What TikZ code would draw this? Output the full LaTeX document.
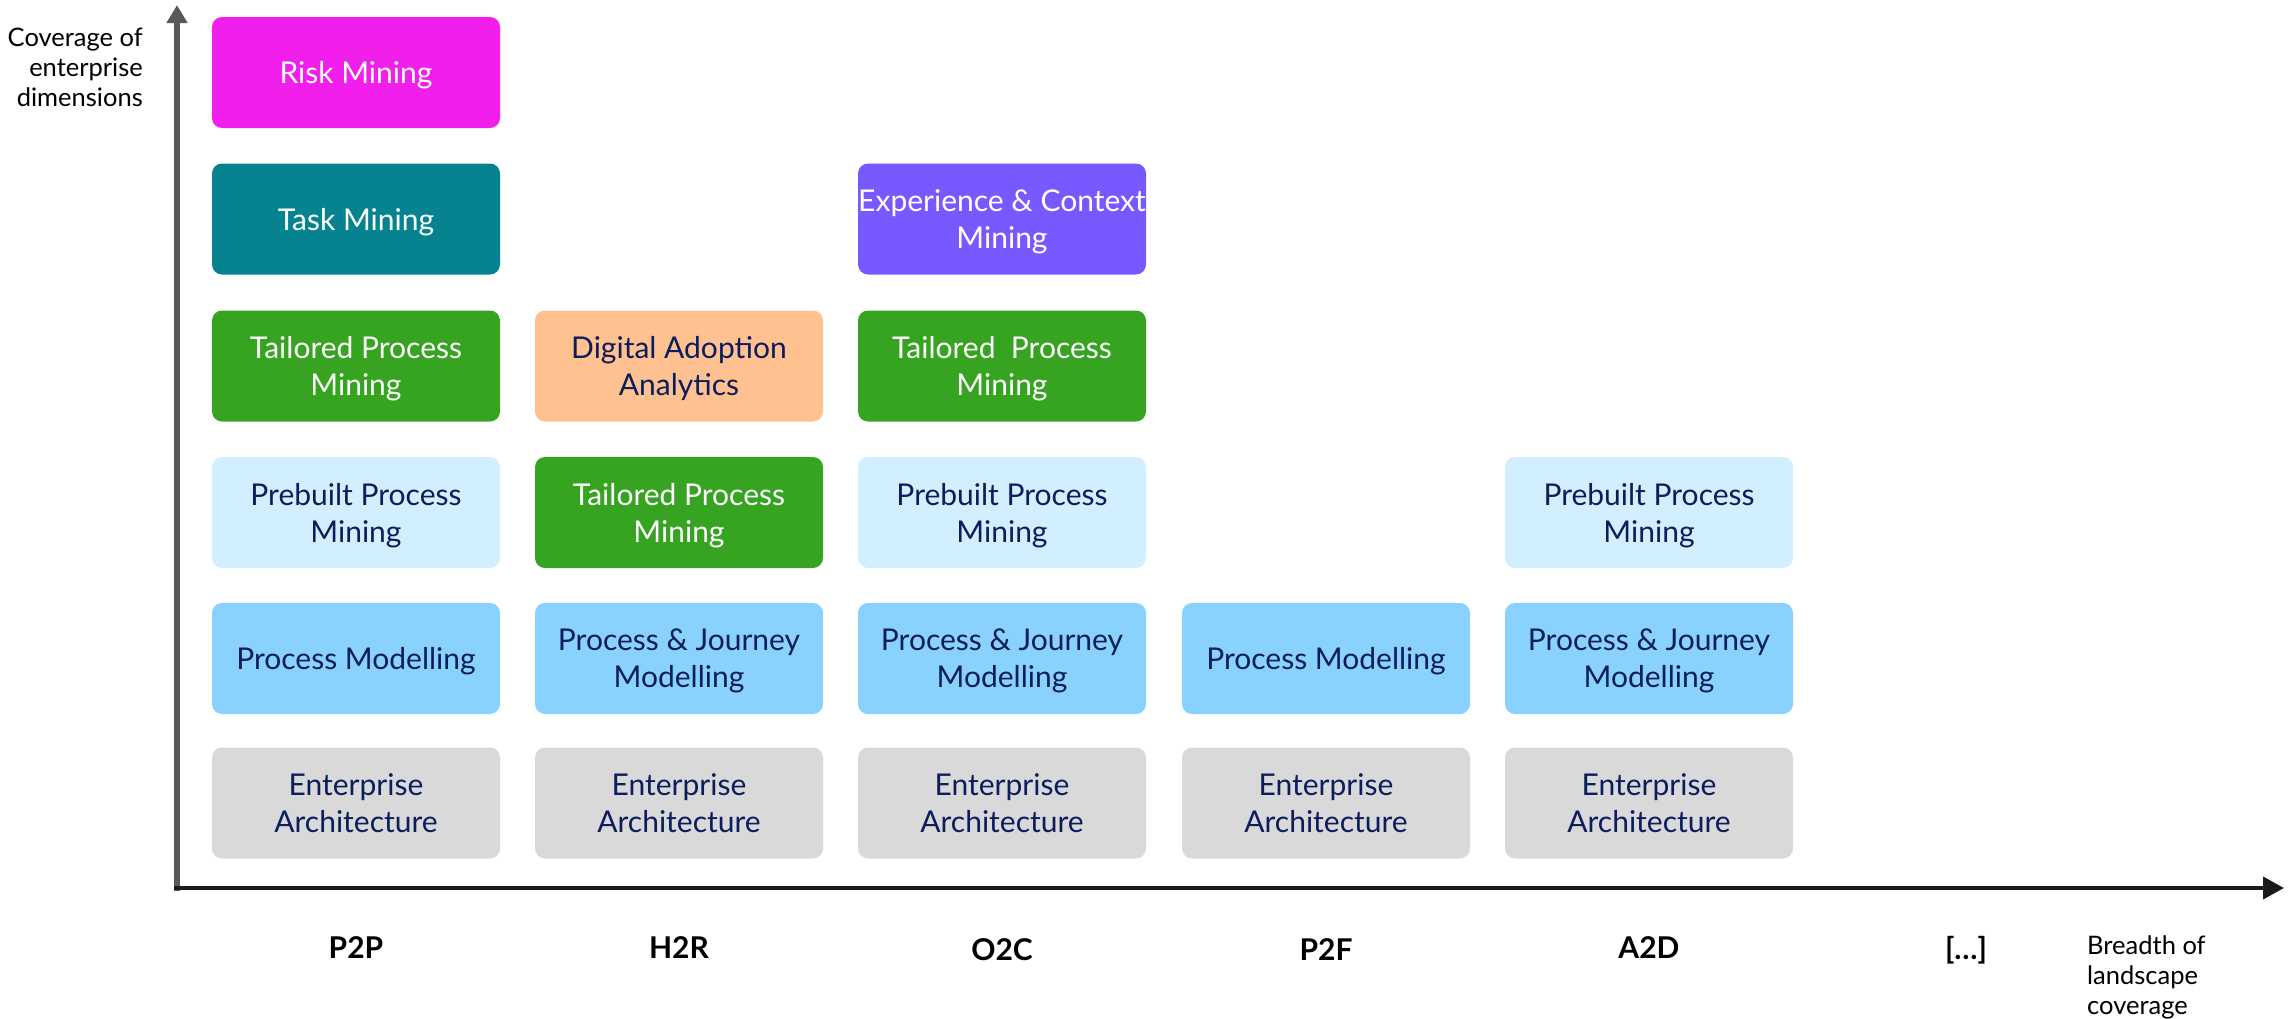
\documentclass[tikz,border=0pt]{standalone}
\usepackage{fontspec}
\setmainfont{Lato}
\usetikzlibrary{arrows.meta}
\definecolor{navy}{HTML}{0B1D5C}
\definecolor{riskc}{HTML}{F21EEC}
\definecolor{taskc}{HTML}{07838F}
\definecolor{expc}{HTML}{7858FF}
\definecolor{greenc}{HTML}{36A420}
\definecolor{peachc}{HTML}{FFC18F}
\definecolor{prebc}{HTML}{D1EFFF}
\definecolor{pmc}{HTML}{89D1FF}
\definecolor{eac}{HTML}{D9D9D9}
\definecolor{axisgray}{HTML}{595959}
\definecolor{axisdark}{HTML}{1A1A1A}
\begin{document}
\begin{tikzpicture}[x=1pt,y=-1pt,
  box/.style={rounded corners=10pt, minimum width=288pt, minimum height=111pt,
    align=center, inner sep=0pt, text depth=0pt,
    font=\fontsize{30}{37}\selectfont, text=navy},
  darkbox/.style={box, text=white},
  axlabel/.style={font=\fontsize{25.5}{30}\selectfont, text=black, inner sep=0pt},
  catlabel/.style={font=\fontsize{30}{34}\selectfont\bfseries, text=black, inner sep=0pt},
]
\useasboundingbox (0,0) rectangle (2289,1018);

% column 1 (P2P)
\node[darkbox, fill=riskc] (risk) at (356,72.5) {Risk Mining};
\node[darkbox, fill=taskc] (task) at (356,219) {Task Mining};
\node[darkbox, fill=greenc] (tpm1) at (356,366) {Tailored Process\\Mining};
\node[box, fill=prebc] (ppm1) at (356,512.5) {Prebuilt Process\\Mining};
\node[box, fill=pmc] (pm1) at (356,658.5) {Process Modelling};
\node[box, fill=eac] (ea1) at (356,803) {Enterprise\\Architecture};

% column 2 (H2R)
\node[box, fill=peachc] (daa) at (679,366) {Digital Adoption\\Analytics};
\node[darkbox, fill=greenc] (tpm2) at (679,512.5) {Tailored Process\\Mining};
\node[box, fill=pmc] (pjm2) at (679,658.5) {Process \& Journey\\Modelling};
\node[box, fill=eac] (ea2) at (679,803) {Enterprise\\Architecture};

% column 3 (O2C)
\node[darkbox, fill=expc] (ecm) at (1002,219) {Experience \& Context\\Mining};
\node[darkbox, fill=greenc] (tpm3) at (1002,366) {Tailored\ \ Process\\Mining};
\node[box, fill=prebc] (ppm3) at (1002,512.5) {Prebuilt Process\\Mining};
\node[box, fill=pmc] (pjm3) at (1002,658.5) {Process \& Journey\\Modelling};
\node[box, fill=eac] (ea3) at (1002,803) {Enterprise\\Architecture};

% column 4 (P2F)
\node[box, fill=pmc] (pm4) at (1326,658.5) {Process Modelling};
\node[box, fill=eac] (ea4) at (1326,803) {Enterprise\\Architecture};

% column 5 (A2D)
\node[box, fill=prebc] (ppm5) at (1649,512.5) {Prebuilt Process\\Mining};
\node[box, fill=pmc] (pjm5) at (1649,658.5) {Process \& Journey\\Modelling};
\node[box, fill=eac] (ea5) at (1649,803) {Enterprise\\Architecture};

% axes
\coordinate (vbot) at (177,891);
\coordinate (vtop) at (177,5);
\coordinate (hleft) at (174,888);
\coordinate (htip) at (2284,888);
\draw[line width=6pt, draw=axisgray, -{Triangle[length=18pt,width=20pt]}] (vbot) -- (vtop);
\draw[line width=4pt, draw=axisdark, -{Triangle[length=21pt,width=22pt]}] (hleft) -- (htip);

% axis labels
\node[axlabel, anchor=east, align=right] (ylab) at (143,67) {Coverage of\\enterprise\\dimensions};
\node[axlabel, anchor=west, align=left] (xlab) at (2087,977) {Breadth of\\landscape\\coverage};

% category labels
\node[catlabel] (p2p) at (356,948) {P2P};
\node[catlabel] (h2r) at (679,948) {H2R};
\node[catlabel] (o2c) at (1002,950) {O2C};
\node[catlabel] (p2f) at (1326,950) {P2F};
\node[catlabel] (a2d) at (1649,948) {A2D};
\node[catlabel] (more) at (1966,950) {[…]};
\end{tikzpicture}
\end{document}
